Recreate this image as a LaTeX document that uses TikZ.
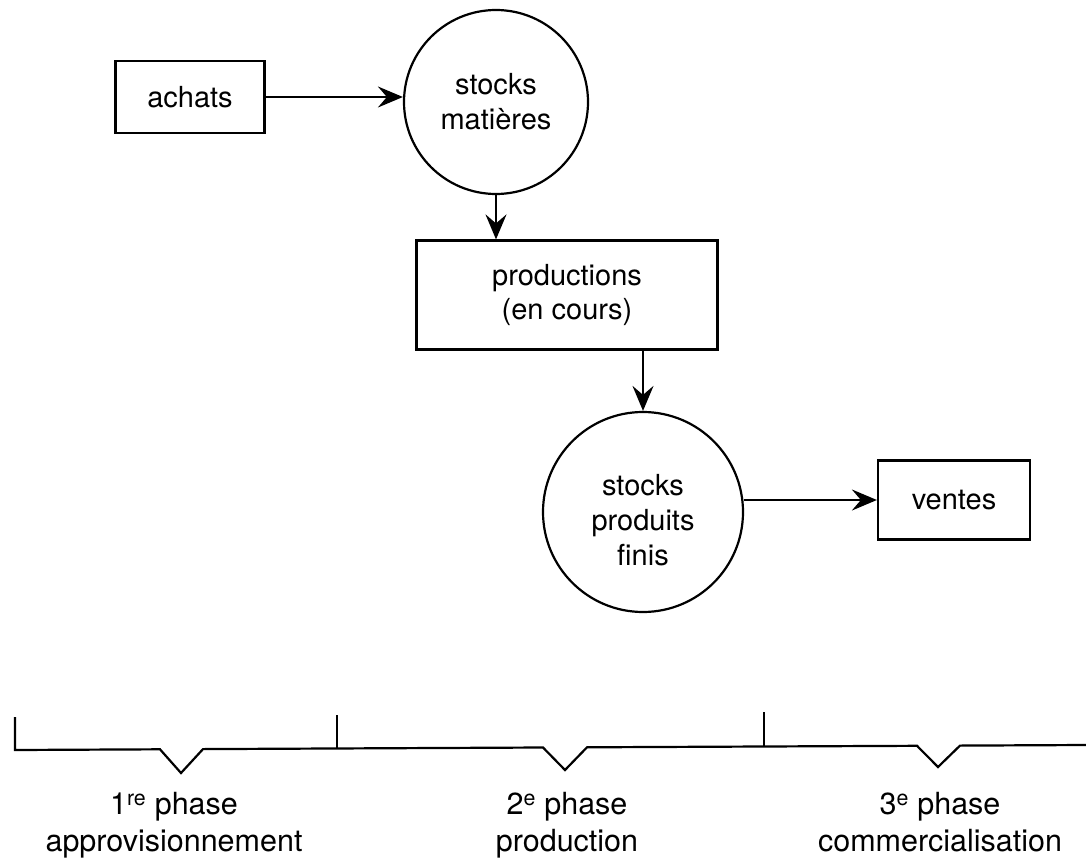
\documentclass[tikz,border=0pt]{standalone}
\usepackage{fontspec}
\setmainfont{TeX Gyre Heros}
\usetikzlibrary{arrows.meta}

\begin{document}
\begin{tikzpicture}[x=1pt, y=-1pt,
  box/.style={draw, line width=2.2pt, inner sep=0pt, align=center, font=\fontsize{29}{34}\selectfont},
  stock/.style={draw, circle, line width=2.2pt, inner sep=0pt, align=center, font=\fontsize{29}{35}\selectfont},
  flow/.style={line width=2.2pt, -{Stealth[length=25pt, width=21pt, inset=9pt]}},
  bracket/.style={line width=2.2pt},
  phase/.style={align=center, inner sep=0pt, anchor=north, font=\fontsize{30.5}{37}\selectfont}]
  \useasboundingbox (0,0) rectangle (1086,861);
  % flux
  \node[box, minimum width=149pt, minimum height=72pt] (achats) at (190,97) {achats};
  \node[stock, minimum size=184pt] (stocksm) at (496,102) {stocks\\mati\`eres};
  \node[box, minimum width=301pt, minimum height=109pt] (prod) at (567,295) {productions\\(en cours)};
  \node[stock, minimum size=200pt] (stocksp) at (643,512) {\rule{0pt}{38pt}stocks\\produits\\finis};
  \node[box, minimum width=152pt, minimum height=79pt] (ventes) at (954,500) {ventes};
  \draw[flow] (achats.east) -- (achats.east -| stocksm.west);
  \draw[flow] (stocksm.south) -- (stocksm.south |- prod.north);
  \draw[flow] (prod.south -| stocksp.north) -- (stocksp.north);
  \draw[flow] (stocksp.east |- ventes.west) -- (ventes.west);
  % phases
  \draw[bracket] (15,717) -- (15,750) -- (160,749.3) -- (181,773) -- (203,749.1) -- (543,747.5) -- (565,770) -- (587,747.3) -- (917,745.8) -- (938,767) -- (960,745.6) -- (1086,745);
  \draw[bracket] (337,748.4) -- (337,715);
  \draw[bracket] (764,746.5) -- (764,712);
  \node[phase] (ph1) at (174,792) {1\textsuperscript{re} phase\\approvisionnement};
  \node[phase] (ph2) at (567,792) {2\textsuperscript{e} phase\\production};
  \node[phase] (ph3) at (940,792) {3\textsuperscript{e} phase\\commercialisation};
\end{tikzpicture}
\end{document}
